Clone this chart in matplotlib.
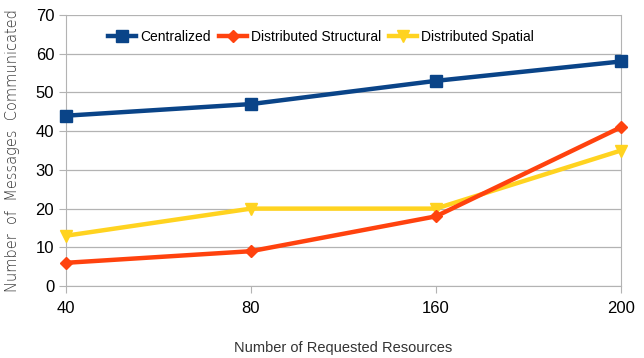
import matplotlib.pyplot as plt

# Messages communicated per scheme
resources = ["40", "80", "160", "200"]
centralized = [44, 47, 53, 58]
dist_structural = [6, 9, 18, 41]
dist_spatial = [13, 20, 20, 35]

plt.rcParams['font.family'] = ['Liberation Sans', 'DejaVu Sans']

fig = plt.figure(figsize=(6.44, 3.58), dpi=100)
ax = fig.add_axes([0.1025, 0.201, 0.8615, 0.757])

x = list(range(len(resources)))
ax.plot(x, centralized, color="#0a4488", lw=3.2, marker="s", ms=8,
        label="Centralized", clip_on=False, zorder=5)
ax.plot(x, dist_structural, color="#ff420e", lw=3.2, marker="D", ms=6.5,
        label="Distributed Structural", clip_on=False, zorder=4)
ax.plot(x, dist_spatial, color="#ffd320", lw=3.2, marker="v", ms=9,
        label="Distributed Spatial", clip_on=False, zorder=3)

ax.set_xlim(0, 3)
ax.set_ylim(0, 70)
ax.set_xticks(x)
ax.set_xticklabels(resources)
ax.set_yticks(range(0, 71, 10))
ax.grid(axis="y", color="#b3b3b3", lw=0.9)
ax.set_axisbelow(True)

ax.spines["top"].set_visible(False)
for side in ["left", "right", "bottom"]:
    ax.spines[side].set_color("#b3b3b3")
ax.tick_params(axis="both", colors="#b3b3b3", labelcolor="black", labelsize=12, length=5)
ax.tick_params(axis="x", pad=6)

ax.set_xlabel("Number of Requested Resources", fontsize=10.5, color="#333333", labelpad=18)
ax.set_ylabel("Number  of  Messages  Communicated", fontsize=10.5, color="#333333",
              family=["DejaVu Sans"], fontweight="light", labelpad=11)

ax.legend(loc="upper center", bbox_to_anchor=(0.46, 0.99), ncol=3, frameon=False,
          fontsize=10, handlelength=2.0, handletextpad=0.3, columnspacing=0.6)

fig.savefig("out.png", dpi=100)
